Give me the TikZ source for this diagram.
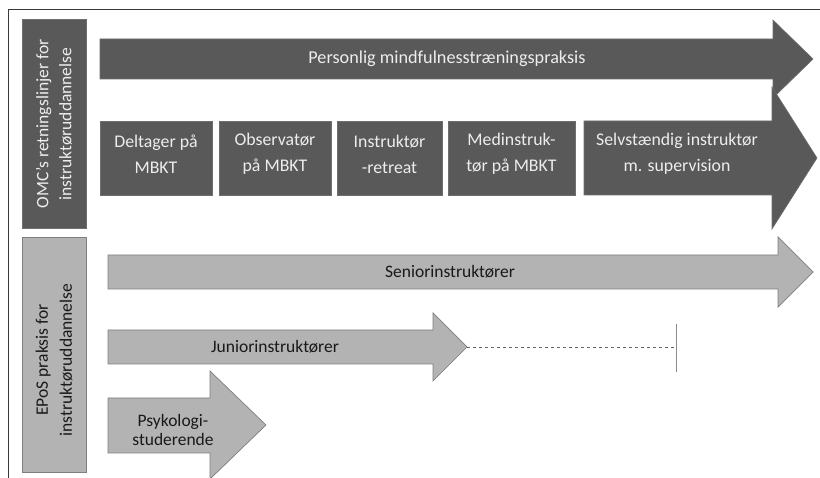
\documentclass[tikz,border=0pt]{standalone}
\usepackage{fontspec}
\setmainfont{Carlito}
\usetikzlibrary{positioning}

\definecolor{morkgraa}{HTML}{595959}
\definecolor{morkkant}{HTML}{6E6E6E}
\definecolor{lysgraa}{HTML}{B3B3B3}
\definecolor{lyskant}{HTML}{7F7F7F}
\definecolor{lystekst}{HTML}{EDEDED}
\definecolor{rammefarve}{HTML}{3A3A3A}

\tikzset{
  mork/.style = {fill = morkgraa, draw = morkkant, line width = 0.6pt},
  lys/.style = {fill = lysgraa, draw = lyskant, line width = 0.7pt},
  hvidtekst/.style = {text = lystekst, align = center, inner sep = 0pt,
                      font = \fontsize{17.8}{26}\selectfont},
  sorttekst/.style = {text = black!90, align = center, inner sep = 0pt,
                      font = \fontsize{17.5}{19}\selectfont}
}

\begin{document}
\begin{tikzpicture}[x = 1pt, y = -1pt]
\useasboundingbox (0,0) rectangle (820,478);
\clip (0,0) rectangle (820,478);
\fill[white] (0,0) rectangle (820,478);
% ramme
\draw[rammefarve, line width = 0.8pt] (8,478) -- (8,9) -- (820,9);
% OMC
\filldraw[mork] (22,19) rectangle (86,228);
\node[hvidtekst, rotate = 90, font = \fontsize{17.5}{23}\selectfont] (omc) at (54,124)
  {OMC’s retningslinjer for\\instruktøruddannelse};
\filldraw[mork] (100,39) -- (773,39) -- (773,20) -- (813,59) -- (773,98)
  -- (773,79) -- (100,79) -- cycle;
\node[hvidtekst, font = \fontsize{18.2}{26}\selectfont] (praksis) at (447,59)
  {Personlig mindfulnesstræningspraksis};
\filldraw[mork] (100,121) rectangle (212,195);
\node[hvidtekst] (deltager) at (156,154) {Deltager på\\MBKT};
\filldraw[mork] (219,121) rectangle (331,195);
\node[hvidtekst] (observator) at (275,154) {Observatør\\på MBKT};
\filldraw[mork] (337,121) rectangle (442,195);
\node[hvidtekst] (retreat) at (389.5,154) {Instruktør\\-retreat};
\filldraw[mork] (448,121) rectangle (575,195);
\node[hvidtekst] (medinstruktor) at (511.5,154) {Medinstruk-\\tør på MBKT};
\filldraw[mork] (584,121) -- (772,121) -- (772,87) -- (817,158) -- (772,229)
  -- (772,195) -- (584,195) -- cycle;
\node[hvidtekst] (selvstaendig) at (677,154) {Selvstændig instruktør\\m. supervision};
% EPoS
\filldraw[lys] (22,237) rectangle (86,472);
\node[sorttekst, rotate = 90, font = \fontsize{17.5}{24}\selectfont] (epos) at (54,360)
  {EPoS praksis for\\instruktøruddannelse};
\filldraw[lys] (108,255) -- (778,255) -- (778,237) -- (813,272) -- (778,307)
  -- (778,289) -- (108,289) -- cycle;
\node[sorttekst] (senior) at (450,272) {Seniorinstruktører};
\filldraw[lys] (108,330) -- (433,330) -- (433,313) -- (467,347) -- (433,381)
  -- (433,364) -- (108,364) -- cycle;
\coordinate (juniorspids) at (467,347);
\node[sorttekst] (junior) at (275,347) {Juniorinstruktører};
\filldraw[lys] (108,398) -- (210,398) -- (210,371) -- (266,425) -- (210,479)
  -- (210,453) -- (108,453) -- cycle;
\node[sorttekst] (psykologi) at (173,430) {Psykologi-\\studerende};
% stiplet forlaengelse
\coordinate (slut) at (676,347);
\draw[black!60, dashed, line width = 0.6pt] (juniorspids) -- (slut);
\draw[black!45, line width = 0.9pt] ([yshift = -25pt]slut) -- ([yshift = 23pt]slut);
\end{tikzpicture}
\end{document}
